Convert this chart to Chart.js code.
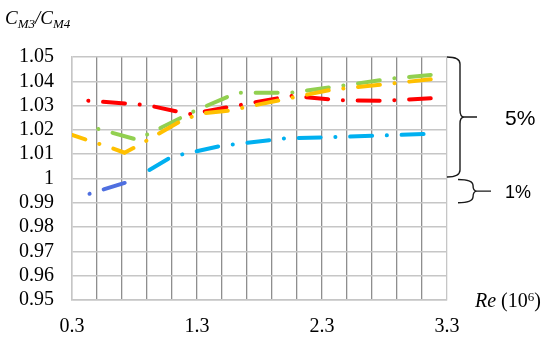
<!DOCTYPE html>
<html>
<head>
<meta charset="utf-8">
<script src="https://cdn.jsdelivr.net/npm/chart.js@4.4.0/dist/chart.umd.min.js"></script>
<style>
  html, body { margin: 0; padding: 0; background: #fff; }
  #wrap { position: relative; width: 550px; height: 340px; }
  .serif { position: absolute; font-family: "Liberation Serif", "Times New Roman", serif; color: #000; white-space: nowrap; line-height: 1; }
  #ylabel { left: 5px; top: 8px; font-size: 19px; font-style: italic; }
  #ylabel sub { font-size: 13px; vertical-align: -0.3em; line-height: 0; }
  #xlabel { left: 475px; top: 290px; font-size: 20px; }
  #xlabel sup { font-size: 13px; vertical-align: 0.45em; line-height: 0; }
</style>
</head>
<body>
<div id="wrap">
  <canvas id="chart1" width="550" height="340"></canvas>
  <div id="ylabel" class="serif">C<sub>M3</sub>/C<sub>M4</sub></div>
  <div id="xlabel" class="serif"><i>Re</i> (10<sup>6</sup>)</div>
</div>
<script>
// values (Re in 10^6, ratio CM3/CM4)
const redRe = [0.43, 0.9, 1.24, 2.05, 2.45, 2.8, 3.17];
const redC = [1.032, 1.0302, 1.0265, 1.034, 1.0322, 1.032, 1.033];

const greenRe = [0.51, 0.82, 1.27, 1.62, 2.05, 2.36, 2.87, 3.17];
const greenC = [1.0204, 1.016, 1.0275, 1.0353, 1.0353, 1.0375, 1.0412, 1.0426];

const orangeRe = [0.3, 0.62, 0.72, 0.82, 1.2, 1.35, 1.55, 2.36, 3.17];
const orangeC = [1.0179, 1.0125, 1.0106, 1.0133, 1.0245, 1.0268, 1.0279, 1.0364, 1.0408];

const blueLowRe = [0.44, 0.73, 0.82];
const blueLowC = [0.9937, 0.9983, 1.0005];

const blueRe = [0.82, 1.1, 1.5, 2.0, 2.5, 3.12];
const blueC = [1.0005, 1.009, 1.0135, 1.0165, 1.0172, 1.0183];

const xGrid = [0.3, 0.5, 0.7, 0.9, 1.1, 1.3, 1.5, 1.7, 1.9, 2.1, 2.3, 2.5, 2.7, 2.9, 3.1, 3.3];
const xLabels = ['0.3', '1.3', '2.3', '3.3'];
const yTicks = [0.95, 0.96, 0.97, 0.98, 0.99, 1, 1.01, 1.02, 1.03, 1.04, 1.05];

// brackets on the right side
const braceLow = [1.0, 0.99];
const braceHigh = [1.05, 1.0];
const braceText = ['5%', '1%'];

const zip = (xs, ys) => xs.map((x, i) => ({ x: x, y: ys[i] }));

// long dash, gap, dot, gap
const dashDot = [22, 14.7, 0.1, 14.7];
const startOnDot = 36.68;

function series(xs, ys, color, offset) {
    return {
        data: zip(xs, ys),
        borderColor: color,
        borderWidth: 4,
        borderDash: dashDot,
        borderDashOffset: offset,
        borderCapStyle: 'round',
        pointRadius: 0,
        tension: 0,
        fill: false
    };
}

const lightGrid = '#c6c6c6';
const darkGrid = '#8e8e8e';
const serifFont = '"Liberation Serif", "Times New Roman", serif';

const bracePlugin = {
    id: 'braces',
    afterDraw(chart) {
        const ctx = chart.ctx;
        const y = chart.scales.y;
        const right = chart.chartArea.right;
        const shapes = [
            { x0: right, xv: right + 13, tip: right + 30, r: 7, font: 21 },
            { x0: right + 11, xv: right + 26, tip: right + 44, r: 6, font: 18 }
        ];
        ctx.save();
        ctx.strokeStyle = '#1a1a1a';
        ctx.lineWidth = 1.4;
        braceText.forEach((txt, i) => {
            const s = shapes[i];
            const top = y.getPixelForValue(braceHigh[i]) + (i === 1 ? 1 : 0);
            const bottom = y.getPixelForValue(braceLow[i]) - (i === 0 ? 1.5 : 0);
            const mid = (top + bottom) / 2;
            ctx.beginPath();
            ctx.moveTo(s.x0, top);
            ctx.quadraticCurveTo(s.xv, top, s.xv, top + s.r);
            ctx.lineTo(s.xv, mid - s.r);
            ctx.quadraticCurveTo(s.xv, mid, s.xv + 4, mid);
            ctx.quadraticCurveTo(s.xv, mid, s.xv, mid + s.r);
            ctx.lineTo(s.xv, bottom - s.r);
            ctx.quadraticCurveTo(s.xv, bottom, s.x0, bottom);
            ctx.moveTo(s.xv + 4, mid);
            ctx.lineTo(s.tip, mid);
            ctx.stroke();

            ctx.fillStyle = '#000';
            ctx.font = s.font + 'px "Liberation Sans", Arial, sans-serif';
            ctx.textBaseline = 'middle';
            ctx.textAlign = 'left';
            ctx.fillText(txt, right + 58, mid + 2);
        });
        ctx.restore();
    }
};

new Chart('chart1', {
    type: 'line',
    data: {
        datasets: [
            series(orangeRe, orangeC, '#ffc000', 8),
            series(redRe, redC, '#ff0000', startOnDot),
            series(greenRe, greenC, '#92d050', startOnDot),
            series(blueLowRe, blueLowC, '#4f6fe0', startOnDot),
            series(blueRe, blueC, '#00b0f0', 37.1)
        ]
    },
    options: {
        responsive: false,
        animation: false,
        layout: { padding: { left: 0, right: 103, top: 57, bottom: 0 } },
        plugins: {
            legend: { display: false },
            tooltip: { enabled: false }
        },
        scales: {
            x: {
                type: 'linear',
                min: 0.3,
                max: 3.3,
                afterBuildTicks: (scale) => { scale.ticks = xGrid.map(v => ({ value: v })); },
                afterFit: (scale) => { scale.height = 40; },
                grid: {
                    color: (c) => (c.index === 0 || c.index === xGrid.length - 1) ? lightGrid : darkGrid,
                    lineWidth: 1.3,
                    drawTicks: false
                },
                border: { color: lightGrid, width: 1.5 },
                ticks: {
                    autoSkip: false,
                    maxRotation: 0,
                    padding: 15,
                    color: '#000',
                    font: { family: serifFont, size: 20 },
                    callback: (v) => xLabels.includes(v.toFixed(1)) ? v.toFixed(1) : ''
                }
            },
            y: {
                min: 0.95,
                max: 1.05,
                afterBuildTicks: (scale) => { scale.ticks = yTicks.map(v => ({ value: v })); },
                afterFit: (scale) => { scale.width = 72; },
                grid: { color: lightGrid, lineWidth: 1.5, drawTicks: false },
                border: { color: lightGrid, width: 1.5 },
                ticks: {
                    autoSkip: false,
                    padding: 18,
                    color: '#000',
                    font: { family: serifFont, size: 20 },
                    callback: (v) => v === 1 ? '1' : v.toFixed(2)
                }
            }
        }
    },
    plugins: [bracePlugin]
});
</script>
</body>
</html>
